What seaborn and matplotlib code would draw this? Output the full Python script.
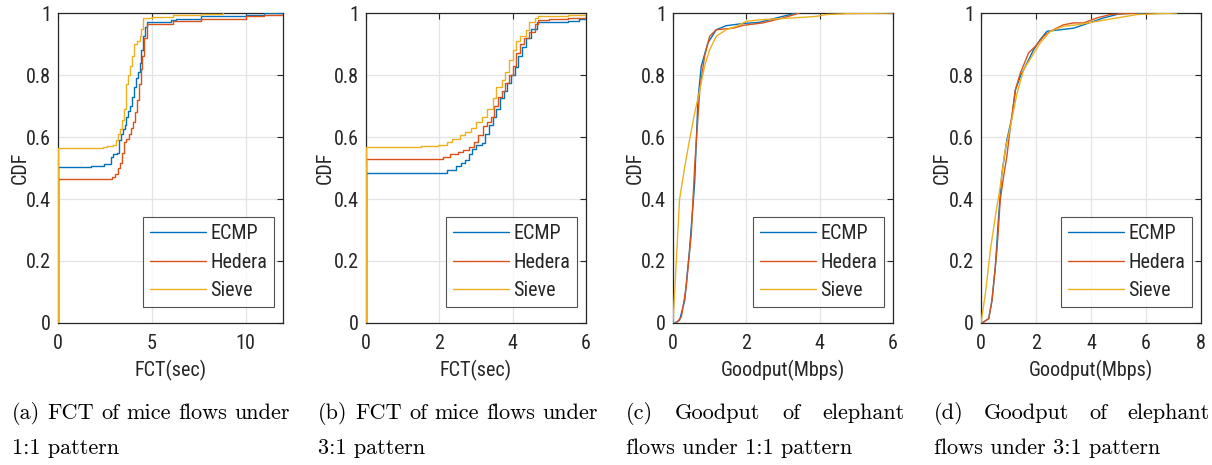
import matplotlib
matplotlib.use("Agg")
import matplotlib.pyplot as plt
from matplotlib import font_manager
from matplotlib.font_manager import FontProperties
import numpy as np
import pandas as pd
import seaborn as sns

# ---------------- data: CDF breakpoints per scheme ----------------
schemes = ["ECMP", "Hedera", "Sieve"]

# (a) FCT of mice flows, 1:1 pattern
a_ecmp_x = [0, 0, 1.75, 2.45, 2.8, 2.95, 3.15, 3.25, 3.35, 3.45, 3.55, 3.65, 3.75, 3.85, 3.95,
            4.05, 4.15, 4.25, 4.35, 4.45, 4.55, 4.65, 4.75, 6.0, 6.3, 7.6, 10.0, 11.0, 12.0]
a_ecmp_y = [0, 0.502, 0.505, 0.512, 0.535, 0.545, 0.548, 0.59, 0.61, 0.625, 0.64, 0.665, 0.685,
            0.70, 0.73, 0.76, 0.79, 0.81, 0.84, 0.88, 0.925, 0.955, 0.972, 0.978, 0.98, 0.99,
            0.992, 1.0, 1.0]
a_hedera_x = [0, 0, 2.2, 2.9, 3.05, 3.2, 3.3, 3.4, 3.5, 3.65, 3.8, 3.9, 4.0, 4.1, 4.2, 4.3, 4.4,
              4.5, 4.6, 4.75, 6.15, 7.6, 10.0, 11.0, 12.0]
a_hedera_y = [0, 0.463, 0.466, 0.47, 0.48, 0.50, 0.515, 0.55, 0.585, 0.595, 0.61, 0.63, 0.65,
              0.68, 0.72, 0.77, 0.82, 0.86, 0.92, 0.966, 0.973, 0.98, 0.99, 0.995, 0.998]
a_sieve_x = [0, 0, 2.4, 2.6, 2.95, 3.1, 3.2, 3.3, 3.4, 3.5, 3.6, 3.65, 3.75, 3.85, 3.95, 4.05,
             4.2, 4.35, 4.45, 4.55, 5.0, 6.15, 7.6, 8.8]
a_sieve_y = [0, 0.565, 0.567, 0.57, 0.575, 0.59, 0.61, 0.625, 0.655, 0.69, 0.72, 0.77, 0.80,
             0.83, 0.86, 0.90, 0.91, 0.925, 0.95, 0.985, 0.988, 0.992, 0.997, 1.0]

# (b) FCT of mice flows, 3:1 pattern
b_ecmp_x = [0, 0, 2.2, 2.45, 2.6, 2.7, 2.8, 2.9, 3.0, 3.15, 3.25, 3.35, 3.45, 3.55, 3.65, 3.75,
            3.85, 3.95, 4.05, 4.15, 4.25, 4.35, 4.5, 4.65, 5.5, 5.8, 6.0]
b_ecmp_y = [0, 0.483, 0.494, 0.505, 0.515, 0.525, 0.545, 0.56, 0.575, 0.58, 0.61, 0.64, 0.665,
            0.69, 0.725, 0.75, 0.775, 0.80, 0.825, 0.86, 0.89, 0.92, 0.95, 0.972, 0.975, 0.98,
            0.985]
b_hedera_x = [0, 0, 2.1, 2.3, 2.5, 2.65, 2.8, 2.95, 3.05, 3.2, 3.3, 3.4, 3.5, 3.6, 3.7, 3.8, 3.9,
              4.0, 4.1, 4.2, 4.3, 4.45, 4.6, 4.7, 5.0, 5.5, 6.0]
b_hedera_y = [0, 0.53, 0.535, 0.545, 0.552, 0.558, 0.568, 0.585, 0.605, 0.635, 0.65, 0.665, 0.70,
              0.73, 0.75, 0.775, 0.80, 0.83, 0.87, 0.90, 0.92, 0.94, 0.965, 0.978, 0.98, 0.985,
              0.99]
b_sieve_x = [0, 0, 1.5, 1.95, 2.2, 2.35, 2.55, 2.7, 2.85, 3.0, 3.15, 3.3, 3.45, 3.55, 3.7, 3.8,
             3.9, 4.0, 4.1, 4.2, 4.35, 4.45, 4.6, 4.7, 5.5, 6.0]
b_sieve_y = [0, 0.568, 0.57, 0.575, 0.585, 0.595, 0.605, 0.615, 0.63, 0.65, 0.665, 0.69, 0.725,
             0.76, 0.785, 0.81, 0.85, 0.88, 0.91, 0.925, 0.945, 0.97, 0.985, 0.99, 0.992, 0.995]

# (c) Goodput of elephant flows, 1:1 pattern
c_ecmp_x = [0.045, 0.18, 0.32, 0.45, 0.59, 0.68, 0.77, 0.95, 1.18, 1.45, 1.9, 2.36, 2.82, 3.36]
c_ecmp_y = [0, 0.009, 0.073, 0.235, 0.45, 0.72, 0.828, 0.903, 0.946, 0.959, 0.966, 0.97, 0.984,
            1.0]
c_hedera_x = [0.09, 0.23, 0.36, 0.5, 0.59, 0.73, 0.86, 1.0, 1.18, 1.64, 1.9, 2.45, 3.0, 3.45]
c_hedera_y = [0, 0.02, 0.116, 0.289, 0.504, 0.752, 0.86, 0.925, 0.946, 0.951, 0.96, 0.968,
              0.984, 1.0]
c_sieve_x = [0, 0.09, 0.18, 0.32, 0.45, 0.59, 0.73, 0.86, 1.0, 1.18, 1.45, 1.73, 2.0, 2.36,
             3.27, 3.9, 4.18, 4.8, 6.0]
c_sieve_y = [0, 0.2, 0.4, 0.504, 0.59, 0.677, 0.752, 0.828, 0.881, 0.925, 0.946, 0.957, 0.973,
             0.978, 0.984, 0.989, 0.995, 0.998, 1.0]

# (d) Goodput of elephant flows, 3:1 pattern
d_ecmp_x = [0.04, 0.28, 0.4, 0.52, 0.64, 0.76, 0.94, 1.13, 1.25, 1.43, 1.67, 1.91, 2.15, 2.4,
            2.88, 3.37, 3.73, 4.45, 5.06, 5.9]
d_ecmp_y = [0, 0.014, 0.073, 0.18, 0.343, 0.483, 0.59, 0.666, 0.752, 0.795, 0.838, 0.881, 0.914,
            0.941, 0.946, 0.951, 0.962, 0.984, 0.998, 1.0]
d_hedera_x = [0.04, 0.28, 0.4, 0.58, 0.7, 0.82, 0.94, 1.07, 1.25, 1.43, 1.73, 1.97, 2.28, 2.52,
              3.0, 3.37, 3.73, 4.21, 4.7, 5.67]
d_hedera_y = [0, 0.014, 0.073, 0.235, 0.397, 0.472, 0.537, 0.634, 0.752, 0.806, 0.871, 0.892,
              0.925, 0.941, 0.962, 0.968, 0.968, 0.984, 0.995, 1.0]
d_sieve_x = [0, 0.16, 0.34, 0.52, 0.7, 0.88, 1.07, 1.31, 1.55, 1.85, 2.15, 2.52, 3.0, 3.49,
             4.21, 4.94, 5.67, 7.12]
d_sieve_y = [0, 0.095, 0.235, 0.343, 0.44, 0.558, 0.634, 0.741, 0.817, 0.86, 0.903, 0.941,
             0.957, 0.962, 0.973, 0.984, 0.995, 1.0]

xlabels = ["FCT(sec)", "FCT(sec)", "Goodput(Mbps)", "Goodput(Mbps)"]
xlims = [12, 6, 6, 8]
xticks = [[0, 5, 10], [0, 2, 4, 6], [0, 2, 4, 6], [0, 2, 4, 6, 8]]
yticks = [0, 0.2, 0.4, 0.6, 0.8, 1.0]
ytick_labels = ["0", "0.2", "0.4", "0.6", "0.8", "1"]

captions = [
    ["(a) FCT of mice flows under", "1:1 pattern"],
    ["(b) FCT of mice flows under", "3:1 pattern"],
    ["(c) Goodput of elephant", "flows under 1:1 pattern"],
    ["(d) Goodput of elephant", "flows under 3:1 pattern"],
]

panels = [
    (a_ecmp_x, a_ecmp_y, a_hedera_x, a_hedera_y, a_sieve_x, a_sieve_y),
    (b_ecmp_x, b_ecmp_y, b_hedera_x, b_hedera_y, b_sieve_x, b_sieve_y),
    (c_ecmp_x, c_ecmp_y, c_hedera_x, c_hedera_y, c_sieve_x, c_sieve_y),
    (d_ecmp_x, d_ecmp_y, d_hedera_x, d_hedera_y, d_sieve_x, d_sieve_y),
]
stepped = [True, True, False, False]

palette = {"ECMP": "#0072BD", "Hedera": "#D95319", "Sieve": "#EDB120"}

# ---------------- style ----------------
sns.set_style("white")
plt.rcParams["font.family"] = ["Liberation Sans", "DejaVu Sans"]


def pick_narrow_font():
    """Return a FontProperties for a condensed sans face if one is installed."""
    entries = font_manager.fontManager.ttflist
    prefs = ["Liberation Sans Narrow", "DejaVu Sans Condensed", "Roboto Condensed",
             "Open Sans Condensed", "Noto Sans Condensed", "Arial Narrow"]
    for want in prefs:
        for f in entries:
            if f.name == want and f.style == "normal" and f.weight in (400, "normal", "regular"):
                return FontProperties(fname=f.fname), True
    for f in entries:
        if (f.stretch in ("condensed", "semi-condensed") and f.style == "normal"
                and f.weight in (400, "normal", "regular")
                and any(k in f.name for k in ("DejaVu Sans", "Liberation", "Noto Sans", "Roboto",
                                              "Open Sans"))
                and "Mono" not in f.name and "CJK" not in f.name):
            return FontProperties(fname=f.fname), True
    return FontProperties(family="Liberation Sans"), False


narrow_fp, is_narrow = pick_narrow_font()
fs = 14.5 if is_narrow else 13.5
narrow_fp.set_size(fs)
ink = "#262626"

W, H = 1212, 465
fig = plt.figure(figsize=(W / 100, H / 100), dpi=100)

ax_left_px = [58, 366, 673, 981]
ax_w_px = [225, 220, 220, 220]
ax_top_px, ax_bot_px = 13, 323
ylabel_px = [20, 325, 635, 942]

for i, data in enumerate(panels):
    l = ax_left_px[i]
    ax = fig.add_axes([l / W, 1 - ax_bot_px / H, ax_w_px[i] / W, (ax_bot_px - ax_top_px) / H])
    frames = []
    for k, name in enumerate(schemes):
        frames.append(pd.DataFrame({"x": data[2 * k], "cdf": data[2 * k + 1], "scheme": name}))
    df = pd.concat(frames, ignore_index=True)
    kw = dict(drawstyle="steps-post") if stepped[i] else {}
    sns.lineplot(data=df, x="x", y="cdf", hue="scheme", hue_order=schemes, palette=palette,
                 sort=False, estimator=None, linewidth=1.0, legend=False, ax=ax, zorder=3, **kw)

    ax.set_xlim(0, xlims[i])
    ax.set_ylim(0, 1)
    ax.set_xticks(xticks[i])
    ax.set_xticklabels([str(t) for t in xticks[i]])
    ax.set_yticks(yticks)
    ax.set_yticklabels(ytick_labels)
    for lbl in ax.get_xticklabels() + ax.get_yticklabels():
        lbl.set_fontproperties(narrow_fp)
    ax.grid(True, color="#e4e4e4", linewidth=0.9, zorder=0)
    ax.set_axisbelow(True)
    for s in ax.spines.values():
        s.set_color(ink)
        s.set_linewidth(0.9)
    ax.tick_params(direction="in", length=4, width=0.8, colors=ink,
                   top=True, right=True, labelcolor=ink)
    ax.tick_params(axis="x", pad=8)
    ax.tick_params(axis="y", pad=5)

    ax.set_xlabel(xlabels[i], fontproperties=narrow_fp, color=ink, va="center")
    ax.xaxis.set_label_coords(0.5, -0.152)
    ax.set_ylabel("CDF", fontproperties=narrow_fp, color=ink, va="center")
    ax.yaxis.set_label_coords((ylabel_px[i] - l) / ax_w_px[i], 0.5)

    leg = ax.legend(handles=ax.lines[:3], labels=schemes, loc="lower right",
                    bbox_to_anchor=(0.958, 0.052), prop=narrow_fp, frameon=True, fancybox=False,
                    handlelength=2.8, handletextpad=0.2, labelspacing=0.48, borderpad=0.33,
                    borderaxespad=0.0)
    leg.get_frame().set_edgecolor(ink)
    leg.get_frame().set_linewidth(0.8)
    for t in leg.get_texts():
        t.set_color(ink)

# ---------------- justified captions ----------------
renderer = fig.canvas.get_renderer()
cap_font = dict(family="cmr10", fontsize=16, color="black")
col_left = [12, 318, 626, 934]
col_right = [290, 598, 905, 1210]
line1_base, line2_base = 419, 454

for i, (first, second) in enumerate(captions):
    words = first.split()
    texts = [fig.text(0, 1 - line1_base / H, w, va="baseline", ha="left", **cap_font) for w in words]
    widths = [t.get_window_extent(renderer).width for t in texts]
    gap = (col_right[i] - col_left[i] - sum(widths)) / (len(words) - 1)
    x = col_left[i]
    for t, w in zip(texts, widths):
        t.set_x(x / W)
        x += w + gap
    fig.text(col_left[i] / W, 1 - line2_base / H, second, va="baseline", ha="left", **cap_font)

fig.savefig("out.png", dpi=100)
